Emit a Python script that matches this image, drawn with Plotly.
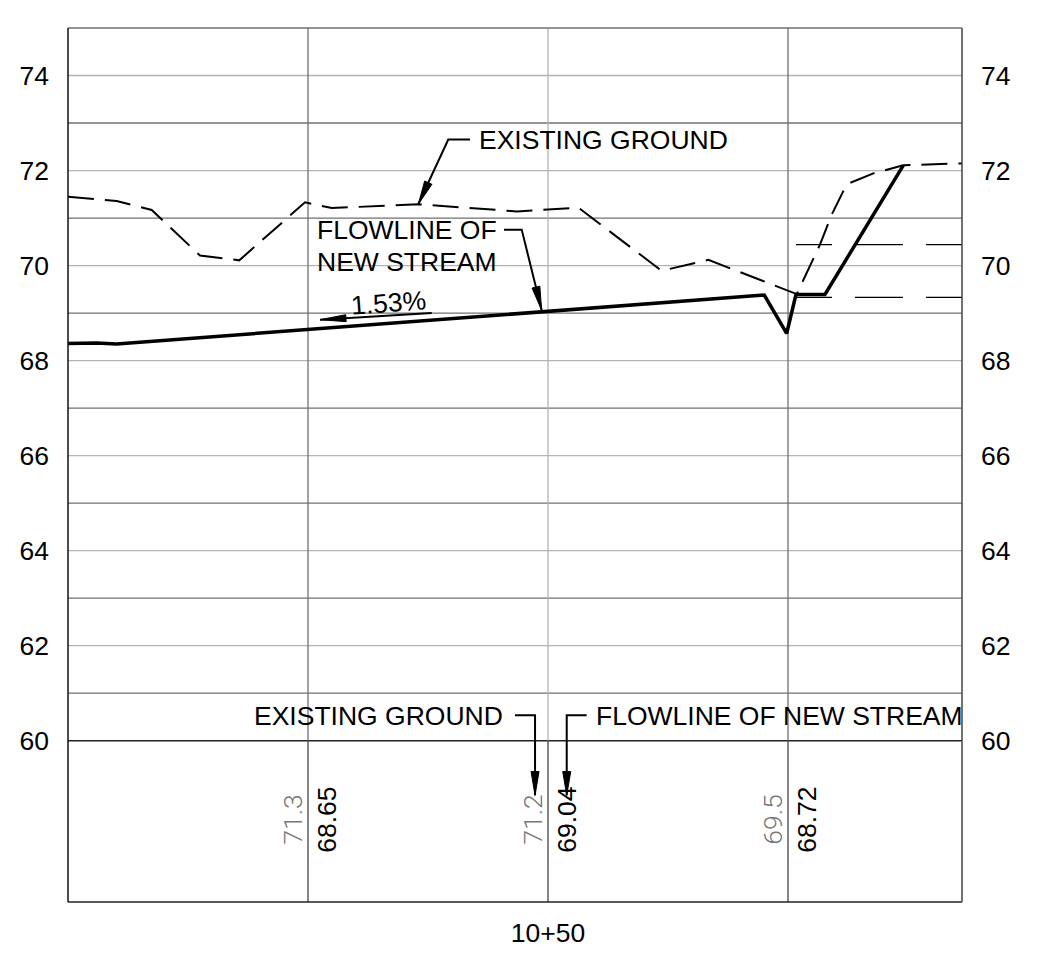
import math
import plotly.graph_objects as go

# ---------------- data ----------------
station_ticks = [1050]
station_labels = ["10+50"]
grid_stations = [1025, 1050, 1075]
grid_station_dark = [True, False, True]
elev_ticks = [60, 62, 64, 66, 68, 70, 72, 74]
elev_labels = ["60", "62", "64", "66", "68", "70", "72", "74"]
grid_dark = [61, 63, 65, 67, 69, 71, 73]
grid_light = [62, 64, 66, 68, 70, 72, 74]

# existing ground (dashed)
eg_x = [1000.0, 1005.07, 1008.72, 1013.75, 1017.84, 1024.69, 1027.47, 1036.49, 1046.74,
        1053.16, 1061.84, 1066.70, 1075.91, 1078.33, 1079.55, 1081.11, 1083.89, 1087.01, 1093.13]
eg_y = [71.45, 71.36, 71.17, 70.21, 70.11, 71.33, 71.21, 71.29, 71.14,
        71.22, 69.89, 70.12, 69.40, 70.44, 71.07, 71.71, 71.94, 72.11, 72.15]

# flowline of new stream (solid)
fl_x = [1000.0, 1002.99, 1005.07, 1072.53, 1074.86, 1075.83, 1078.85, 1087.01]
fl_y = [68.36, 68.37, 68.35, 69.38, 68.57, 69.39, 69.39, 72.11]

# thin long-dash lines on right
bank_x = [1075.83, 1093.13]
bank_levels = [70.44, 69.33]

# band labels
label_stations = [1025, 1050, 1075]
eg_label_text = ["71.3", "71.2", "69.5"]
fl_label_text = ["68.65", "69.04", "68.72"]

# ---------------- layout geometry ----------------
W, H = 1022, 952
ML, MR, MT, MB = 60, 68, 20, 49
X0, X1 = 1000.0, 1093.125
Y0, Y1 = 56.604, 75.0
PXX = (W - ML - MR) / (X1 - X0)
PXY = (H - MT - MB) / (Y1 - Y0)

FONT = "Liberation Sans, Arial, sans-serif"
FS = 26.5
DARK = "#707070"
LIGHT = "#b4b4b4"

fig = go.Figure()

fig.add_trace(go.Scatter(x=eg_x, y=eg_y, mode="lines",
                         line=dict(color="black", width=2, dash="26px,11px"),
                         hoverinfo="skip", showlegend=False))
fig.add_trace(go.Scatter(x=fl_x, y=fl_y, mode="lines",
                         line=dict(color="black", width=3.5),
                         hoverinfo="skip", showlegend=False))
for lv in bank_levels:
    fig.add_trace(go.Scatter(x=bank_x, y=[lv, lv], mode="lines",
                             line=dict(color="black", width=1.3, dash="36px,23px,48px,23px"),
                             hoverinfo="skip", showlegend=False, yaxis="y2"))

shapes = []
# horizontal grid
for g in grid_dark:
    shapes.append(dict(type="line", xref="paper", x0=0, x1=1, yref="y", y0=g, y1=g,
                       line=dict(color=DARK, width=1.3), layer="below"))
for g in grid_light:
    shapes.append(dict(type="line", xref="paper", x0=0, x1=1, yref="y", y0=g, y1=g,
                       line=dict(color=LIGHT, width=1.3), layer="below"))
# vertical station lines
for s, dk in zip(grid_stations, grid_station_dark):
    shapes.append(dict(type="line", xref="x", x0=s, x1=s, yref="y", y0=elev_ticks[0], y1=Y1,
                       line=dict(color=DARK if dk else LIGHT, width=1.3), layer="below"))
    shapes.append(dict(type="line", xref="x", x0=s, x1=s, yref="y", y0=Y0, y1=elev_ticks[0],
                       line=dict(color="#333333", width=1.2), layer="below"))
# 60 line, borders
shapes.append(dict(type="line", xref="paper", x0=0, x1=1, yref="y", y0=elev_ticks[0], y1=elev_ticks[0],
                   line=dict(color="#222222", width=1.5), layer="below"))
shapes.append(dict(type="line", xref="paper", x0=0, x1=1, yref="paper", y0=1, y1=1,
                   line=dict(color=DARK, width=1.5)))
shapes.append(dict(type="line", xref="paper", x0=0, x1=1, yref="paper", y0=0, y1=0,
                   line=dict(color="#222222", width=1.5)))
shapes.append(dict(type="line", xref="paper", x0=0, x1=0, yref="paper", y0=0, y1=1,
                   line=dict(color="#111111", width=1.5)))
shapes.append(dict(type="line", xref="paper", x0=1, x1=1, yref="paper", y0=0, y1=1,
                   line=dict(color="#444444", width=1.5)))


def leader(points, width=2):
    path = "M" + " L".join(f"{x},{y}" for x, y in points)
    return dict(type="path", path=path, xref="x", yref="y",
                line=dict(color="black", width=width), layer="above")


def arrowhead(tail, tip, length=24, half=4):
    dx = (tip[0] - tail[0]) * PXX
    dy = (tip[1] - tail[1]) * PXY
    d = math.hypot(dx, dy)
    ux, uy = dx / d, dy / d
    bx, by = -ux * length, -uy * length
    nx, ny = -uy * half, ux * half
    pts = [(0, 0), (bx + nx, by + ny), (bx - nx, by - ny)]
    path = "M" + " L".join(f"{tip[0] + a / PXX},{tip[1] + b / PXY}" for a, b in pts) + " Z"
    return dict(type="path", path=path, xref="x", yref="y", fillcolor="black",
                line=dict(color="black", width=1), layer="above")


# top existing ground leader
p = [(1041.875, 72.652), (1039.61, 72.652), (1036.49, 71.29)]
shapes += [leader(p), arrowhead(p[1], p[2])]
# flowline leader
p = [(1045.42, 70.756), (1047.26, 70.756), (1049.34, 69.06)]
shapes += [leader(p), arrowhead(p[1], p[2])]
# slope arrow
p = [(1037.89, 69.0), (1026.25, 68.86)]
shapes += [leader(p, 2), arrowhead(p[0], p[1], 26, 3.5)]
# bottom leaders
p = [(1046.56, 60.535), (1048.65, 60.535), (1048.65, 58.85)]
shapes += [leader(p), arrowhead(p[1], p[2])]
p = [(1054.03, 60.535), (1051.95, 60.535), (1051.95, 58.85)]
shapes += [leader(p), arrowhead(p[1], p[2])]

ann = []
tf = dict(family=FONT, size=FS, color="black")
ann.append(dict(x=1042.57, y=72.652, text="EXISTING GROUND", xanchor="left", yanchor="middle",
                showarrow=False, font=tf))
ann.append(dict(x=1025.73, y=70.74, text="FLOWLINE OF", xanchor="left", yanchor="middle",
                showarrow=False, font=tf))
ann.append(dict(x=1025.73, y=70.08, text="NEW STREAM", xanchor="left", yanchor="middle",
                showarrow=False, font=tf))
ann.append(dict(x=1033.37, y=69.21, text="1.53%", xanchor="center", yanchor="middle",
                textangle=-4.4, showarrow=False, font=tf))
ann.append(dict(x=1045.52, y=60.51, text="EXISTING GROUND", xanchor="right", yanchor="middle",
                showarrow=False, font=tf))
ann.append(dict(x=1054.82, y=60.51, text="FLOWLINE OF NEW STREAM", xanchor="left", yanchor="middle",
                showarrow=False, font=tf))
for s, eg, fl in zip(label_stations, eg_label_text, fl_label_text):
    ann.append(dict(x=s - 1.7, y=58.33, text=eg, textangle=-90, xanchor="center", yanchor="middle",
                    showarrow=False, font=dict(family="Roboto, " + FONT, size=FS, color="#777777", weight=300)))
    ann.append(dict(x=s + 1.95, y=58.33, text=fl, textangle=-90, xanchor="center", yanchor="middle",
                    showarrow=False, font=tf))

axis_font = dict(family=FONT, size=FS, color="black")
fig.update_layout(
    width=W, height=H,
    margin=dict(l=ML, r=MR, t=MT, b=MB, pad=0),
    paper_bgcolor="white", plot_bgcolor="white",
    showlegend=False,
    shapes=shapes, annotations=ann,
    xaxis=dict(range=[X0, X1], showgrid=False, zeroline=False, showline=False,
               tickvals=station_ticks, ticktext=station_labels, ticks="",
               tickfont=axis_font, ticklabelstandoff=12),
    yaxis=dict(range=[Y0, Y1], showgrid=False, zeroline=False, showline=False,
               tickvals=elev_ticks, ticktext=elev_labels, ticks="",
               tickfont=axis_font, ticklabelstandoff=18),
    yaxis2=dict(range=[Y0, Y1], overlaying="y", side="right", showgrid=False, zeroline=False,
                showline=False, tickvals=elev_ticks, ticktext=elev_labels, ticks="",
                tickfont=axis_font, ticklabelstandoff=18),
)

fig.write_html("out.html")
